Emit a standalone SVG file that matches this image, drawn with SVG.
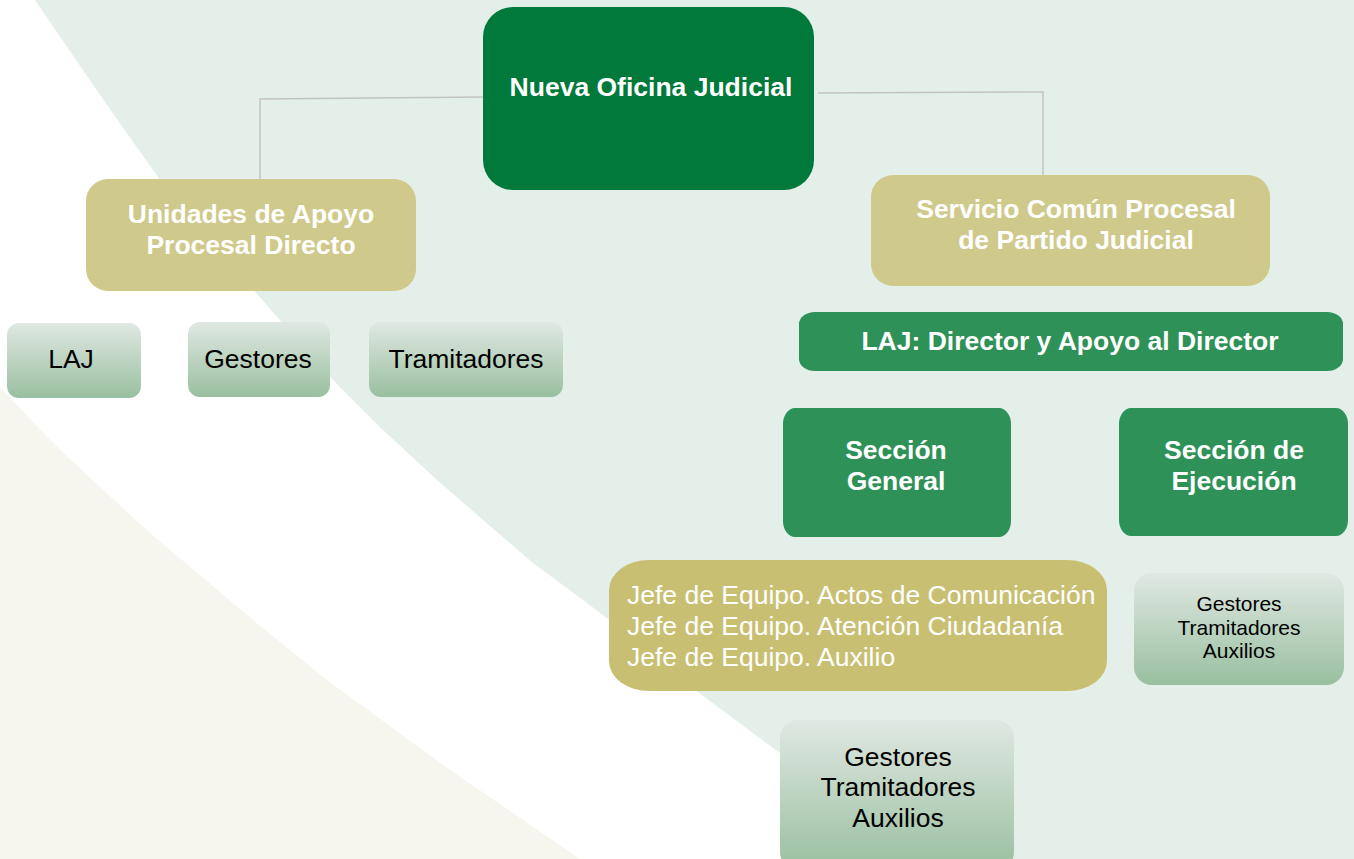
<svg xmlns="http://www.w3.org/2000/svg" width="1354" height="859" viewBox="0 0 1354 859">
<style>
.t{font-family:"Liberation Sans",Arial,sans-serif;text-anchor:middle}
.b{font-weight:bold;fill:#ffffff;font-size:26.5px}
.r{fill:#000000;font-size:26.5px}
.s{fill:#000000;font-size:21px}
.w{fill:#ffffff;font-size:26.5px;font-family:"Liberation Sans",Arial,sans-serif}
.tan{fill:#cfc98b}
.dg{fill:#00793a}
.mg{fill:#2e9157}
.lg{fill:url(#gr)}
.c{fill:none;stroke:#c3c3c3;stroke-width:1.5}
</style>
<defs>
<linearGradient id="gr" x1="0" y1="0" x2="0" y2="1">
<stop offset="0" stop-color="#e0e8e3"/>
<stop offset="1" stop-color="#99bf9f"/>
</linearGradient>
</defs>
<g id="background">
<rect x="0" y="0" width="1354" height="859" fill="#ffffff"/>
<path d="M35,0 L100,95 L160,180 L215,245 L264,302 L300,343 L333,380 L383,430 L437,480 L483,520 L533,563 L583,600 L625,632 L687,684 L780,753 L870,812 L945,859 L1354,859 L1354,0 Z" fill="#e5efe9"/>
<path d="M0,387 L50,440 L100,487 L150,533 L200,575 L253,620 L327,680 L446,767 L580,859 L0,859 Z" fill="#f6f6ee"/>
</g>
<g id="connectors">
<polyline class="c" points="483,97 260,99 260,180"/>
<polyline class="c" points="818,93 1043,92 1043,175"/>
</g>
<g id="n-nueva">
<rect class="dg" x="483" y="7" width="331" height="183" rx="30" ry="30"/>
<text class="t b" x="651" y="96">Nueva Oficina Judicial</text>
</g>
<g id="n-unidades">
<rect class="tan" x="86" y="179" width="330" height="112" rx="22" ry="22"/>
<text class="t b" x="251" y="223">Unidades de Apoyo</text>
<text class="t b" x="251" y="254">Procesal Directo</text>
</g>
<g id="n-servicio">
<rect class="tan" x="871" y="175" width="399" height="111" rx="22" ry="22"/>
<text class="t b" x="1076" y="218">Servicio Común Procesal</text>
<text class="t b" x="1076" y="249">de Partido Judicial</text>
</g>
<g id="n-laj">
<rect class="lg" x="7" y="323" width="134" height="75" rx="12" ry="12"/>
<text class="t r" x="71" y="368">LAJ</text>
</g>
<g id="n-gestores">
<rect class="lg" x="188" y="322" width="142" height="75" rx="12" ry="12"/>
<text class="t r" x="258" y="368">Gestores</text>
</g>
<g id="n-tramitadores">
<rect class="lg" x="369" y="322" width="194" height="75" rx="12" ry="12"/>
<text class="t r" x="466" y="368">Tramitadores</text>
</g>
<g id="n-lajdir">
<rect class="mg" x="799" y="312" width="544" height="59" rx="16" ry="12"/>
<text class="t b" x="1070" y="350">LAJ: Director y Apoyo al Director</text>
</g>
<g id="n-general">
<rect class="mg" x="783" y="408" width="228" height="129" rx="12" ry="16"/>
<text class="t b" x="896" y="459">Sección</text>
<text class="t b" x="896" y="490">General</text>
</g>
<g id="n-ejecucion">
<rect class="mg" x="1119" y="408" width="229" height="128" rx="12" ry="16"/>
<text class="t b" x="1234" y="459">Sección de</text>
<text class="t b" x="1234" y="490">Ejecución</text>
</g>
<g id="n-jefe">
<rect x="609" y="560" width="498" height="131" rx="40" ry="30" fill="#c9bf73"/>
<text class="w" x="627" y="604">Jefe de Equipo. Actos de Comunicación</text>
<text class="w" x="627" y="635">Jefe de Equipo. Atención Ciudadanía</text>
<text class="w" x="627" y="666">Jefe de Equipo. Auxilio</text>
</g>
<g id="n-gta-right">
<rect class="lg" x="1134" y="573" width="210" height="112" rx="18" ry="18"/>
<text class="t s" x="1239" y="611">Gestores</text>
<text class="t s" x="1239" y="635">Tramitadores</text>
<text class="t s" x="1239" y="658">Auxilios</text>
</g>
<g id="n-gta-bottom">
<rect class="lg" x="780" y="720" width="234" height="150" rx="18" ry="18"/>
<text class="t r" x="898" y="766">Gestores</text>
<text class="t r" x="898" y="796">Tramitadores</text>
<text class="t r" x="898" y="827">Auxilios</text>
</g>
</svg>
